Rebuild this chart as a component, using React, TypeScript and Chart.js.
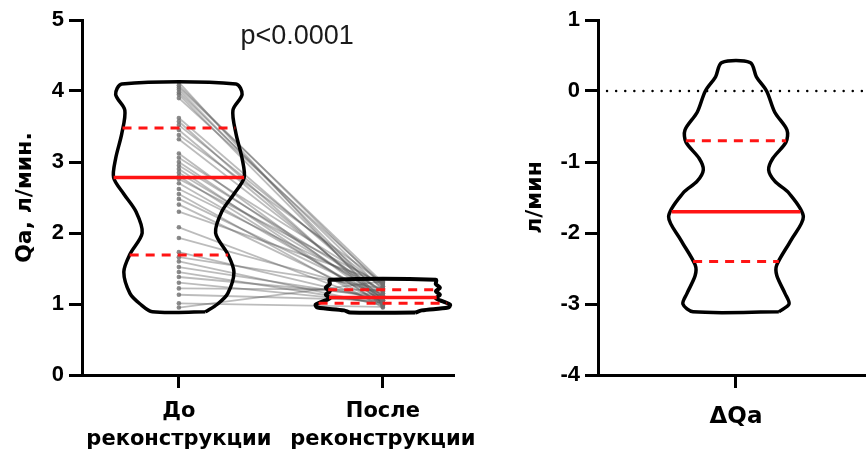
import React, { useEffect, useRef } from 'react';
import { Chart, registerables } from 'chart.js';

Chart.register(...registerables);

// ---------- text ----------
const CATEGORY_LABELS = [
  ['До', 'реконструкции'],
  ['После', 'реконструкции'],
];
const DELTA_LABELS = ['ΔQa'];
const Y_TITLE_LEFT = 'Qa, л/мин.';
const Y_TITLE_RIGHT = 'л/мин';
const P_LABEL = 'p<0.0001';
const P_LABEL_X = 0.58;
const P_LABEL_Y = 4.76;
const ZERO_LINE_VALUE = 0;

// ---------- paired values (л/мин) ----------
const QA_BEFORE = [
  4.12, 4.08, 4.05, 4.02, 3.98, 3.95, 3.9, 3.62, 3.57, 3.52,
  3.45, 3.38, 3.32, 3.12, 3.06, 3.0, 2.95, 2.9, 2.85, 2.8,
  2.76, 2.7, 2.62, 2.55, 2.48, 2.4, 2.3, 2.08, 1.93, 1.73,
  1.66, 1.6, 1.52, 1.45, 1.38, 1.3, 1.22, 1.13, 1.01, 0.95,
];
const QA_AFTER = [
  1.0, 1.25, 1.3, 1.1, 1.2, 1.05, 1.28, 1.15, 1.0, 1.22,
  1.05, 1.3, 1.1, 1.02, 1.25, 1.08, 1.18, 0.98, 1.12, 1.0,
  1.28, 1.05, 1.2, 0.95, 1.1, 1.02, 1.3, 1.0, 1.15, 1.05,
  1.22, 0.98, 1.08, 1.0, 1.12, 1.02, 1.2, 1.05, 0.96, 1.32,
];

// ---------- violin density profiles (value levels / half-widths) ----------
const BEFORE_PROFILE_Y = [0.89, 1.0, 1.15, 1.45, 1.7, 2.0, 2.3, 2.55, 2.78, 3.05, 3.4, 3.73, 3.95, 4.1];
const BEFORE_PROFILE_W = [0.13, 0.19, 0.24, 0.27, 0.24, 0.18, 0.21, 0.27, 0.32, 0.31, 0.28, 0.265, 0.31, 0.28];

const AFTER_PROFILE_Y = [0.88, 0.91, 0.95, 0.99, 1.03, 1.08, 1.13, 1.18, 1.23, 1.28, 1.34];
const AFTER_PROFILE_W = [0.16, 0.19, 0.32, 0.33, 0.3, 0.26, 0.28, 0.26, 0.28, 0.26, 0.26];

const DELTA_PROFILE_Y = [-3.11, -3.0, -2.85, -2.6, -2.45, -2.1, -1.77, -1.44, -1.27, -1.11, -0.95, -0.72, -0.55, -0.3, 0.0, 0.2, 0.4];
const DELTA_PROFILE_W = [0.21, 0.26, 0.24, 0.2, 0.2, 0.27, 0.33, 0.26, 0.19, 0.16, 0.18, 0.245, 0.25, 0.19, 0.15, 0.1, 0.07];

// quartiles: [Q1, median, Q3]
const BEFORE_QUARTILES = [1.69, 2.78, 3.48];
const AFTER_QUARTILES = [1.01, 1.09, 1.2];
const DELTA_QUARTILES = [-2.4, -1.7, -0.7];

// ---------- axes ----------
const LEFT_Y_MIN = 0;
const LEFT_Y_MAX = 5;
const RIGHT_Y_MIN = -4;
const RIGHT_Y_MAX = 1;
const LEFT_X_TICKS = [0, 1];
const RIGHT_X_TICKS = [0];

const RED = '#ff1414';
const TICK_FONT = { family: '"Liberation Sans", Arial, sans-serif', weight: 'bold' as const, size: 22 };
const LABEL_FONT = { family: '"DejaVu Sans", sans-serif', weight: 'bold' as const, size: 21, lineHeight: 1.33 };
const DELTA_FONT = { family: '"DejaVu Sans", sans-serif', weight: 'bold' as const, size: 23, lineHeight: 1.2 };
const TITLE_FONT = { family: '"DejaVu Sans", sans-serif', weight: 'bold' as const, size: 22 };

function outline(center: number, ys: number[], ws: number[]) {
  const right = ys.map((y, i) => ({ x: center + ws[i], y }));
  const left = ys.map((y, i) => ({ x: center - ws[i], y })).reverse();
  const pts = right.concat(left);
  pts.push({ ...pts[0] });
  return pts;
}

function halfWidthAt(ys: number[], ws: number[], v: number) {
  if (v <= ys[0]) return ws[0];
  for (let i = 1; i < ys.length; i++) {
    if (v <= ys[i]) {
      const t = (v - ys[i - 1]) / (ys[i] - ys[i - 1]);
      return ws[i - 1] + t * (ws[i] - ws[i - 1]);
    }
  }
  return ws[ws.length - 1];
}

function violinDatasets(center: number, ys: number[], ws: number[], quartiles: number[], outlineWidth = 3.5) {
  const sets: any[] = [];
  quartiles.forEach((q, i) => {
    const hw = halfWidthAt(ys, ws, q);
    const isMedian = i === 1;
    sets.push({
      data: [{ x: center - hw, y: q }, { x: center + hw, y: q }],
      showLine: true,
      borderColor: RED,
      borderWidth: isMedian ? 3.5 : 3,
      borderDash: isMedian ? [] : [9, 7],
      pointRadius: 0,
      order: 0,
    });
  });
  sets.push({
    data: outline(center, ys, ws),
    showLine: true,
    borderColor: '#000',
    borderWidth: outlineWidth,
    tension: 0.3,
    pointRadius: 0,
    fill: false,
    order: 1,
  });
  return sets;
}

function yAxis(min: number, max: number, width: number, title: string, titlePad: number) {
  return {
    type: 'linear' as const,
    min,
    max,
    afterFit: (s: any) => {
      s.width = width;
      s.paddingTop = 0;
      s.paddingBottom = 0;
    },
    ticks: { stepSize: 1, font: TICK_FONT, color: '#000', padding: 5 },
    grid: { drawOnChartArea: false, drawTicks: true, tickLength: 13, color: '#000', lineWidth: 3 },
    border: { display: true, color: '#000', width: 3 },
    title: { display: true, text: title, font: TITLE_FONT, color: '#000', padding: { top: titlePad, bottom: 0 } },
  };
}

function xAxis(min: number, max: number, tickValues: number[], labels: any[], labelPad: number, font: any) {
  return {
    type: 'linear' as const,
    min,
    max,
    afterBuildTicks: (s: any) => {
      s.ticks = tickValues.map((v) => ({ value: v }));
    },
    afterFit: (s: any) => {
      s.height = 79;
      s.paddingLeft = 0;
      s.paddingRight = 0;
    },
    ticks: {
      autoSkip: false,
      maxRotation: 0,
      minRotation: 0,
      font,
      color: '#000',
      padding: labelPad,
      callback: (_v: any, i: number) => labels[i],
    },
    grid: { drawOnChartArea: false, drawTicks: true, tickLength: 13, color: '#000', lineWidth: 3 },
    border: { display: true, color: '#000', width: 3 },
  };
}

export default function App() {
  const leftRef = useRef<HTMLCanvasElement>(null);
  const rightRef = useRef<HTMLCanvasElement>(null);

  useEffect(() => {
    const pairLines = QA_BEFORE.map((b, i) => ({
      data: [{ x: 0, y: b }, { x: 1, y: QA_AFTER[i] }],
      showLine: true,
      borderColor: 'rgba(80,80,80,0.38)',
      borderWidth: 1.8,
      pointRadius: 0,
      order: 3,
    }));
    const dots = {
      data: QA_BEFORE.map((y) => ({ x: 0, y })).concat(QA_AFTER.map((y) => ({ x: 1, y }))),
      showLine: false,
      pointRadius: 2.3,
      pointBackgroundColor: 'rgba(110,110,110,0.8)',
      pointBorderWidth: 0,
      order: 2,
    };

    const pLabelPlugin = {
      id: 'pLabel',
      afterDatasetsDraw(chart: any) {
        const { ctx, scales } = chart;
        const px = scales.x.getPixelForValue(P_LABEL_X);
        const py = scales.y.getPixelForValue(P_LABEL_Y);
        ctx.save();
        ctx.font = '27px "Liberation Sans", Arial, sans-serif';
        ctx.fillStyle = '#1a1a1a';
        ctx.textAlign = 'center';
        ctx.textBaseline = 'middle';
        ctx.fillText(P_LABEL, px, py);
        ctx.restore();
      },
    };

    const left = new Chart(leftRef.current!, {
      type: 'scatter',
      data: {
        datasets: [
          ...violinDatasets(0, BEFORE_PROFILE_Y, BEFORE_PROFILE_W, BEFORE_QUARTILES),
          ...violinDatasets(1, AFTER_PROFILE_Y, AFTER_PROFILE_W, AFTER_QUARTILES, 4),
          dots,
          ...pairLines,
        ],
      },
      options: {
        responsive: false,
        animation: false,
        layout: { padding: { left: 0, top: 20, right: 47, bottom: 0 } },
        plugins: { legend: { display: false }, tooltip: { enabled: false } },
        scales: {
          x: xAxis(-0.475, 1.344, LEFT_X_TICKS, CATEGORY_LABELS, 10, LABEL_FONT),
          y: yAxis(LEFT_Y_MIN, LEFT_Y_MAX, 82, Y_TITLE_LEFT, 12),
        },
      },
      plugins: [pLabelPlugin],
    });

    const zeroLinePlugin = {
      id: 'zeroLine',
      beforeDatasetsDraw(chart: any) {
        const { ctx, chartArea, scales } = chart;
        const py = scales.y.getPixelForValue(ZERO_LINE_VALUE);
        ctx.save();
        ctx.strokeStyle = '#000';
        ctx.lineWidth = 2.4;
        ctx.lineCap = 'round';
        ctx.setLineDash([0.1, 9]);
        ctx.beginPath();
        ctx.moveTo(chartArea.left + 9, py);
        ctx.lineTo(chartArea.right, py);
        ctx.stroke();
        ctx.restore();
      },
    };

    const right = new Chart(rightRef.current!, {
      type: 'scatter',
      data: {
        datasets: [...violinDatasets(0, DELTA_PROFILE_Y, DELTA_PROFILE_W, DELTA_QUARTILES)],
      },
      options: {
        responsive: false,
        animation: false,
        layout: { padding: { left: 0, top: 20, right: 0, bottom: 0 } },
        plugins: { legend: { display: false }, tooltip: { enabled: false } },
        scales: {
          x: xAxis(-0.676, 0.637, RIGHT_X_TICKS, DELTA_LABELS, 15, DELTA_FONT),
          y: yAxis(RIGHT_Y_MIN, RIGHT_Y_MAX, 98, Y_TITLE_RIGHT, 22),
        },
      },
      plugins: [zeroLinePlugin],
    });

    return () => {
      left.destroy();
      right.destroy();
    };
  }, []);

  return (
    <div style={{ position: 'absolute', left: 0, top: 0, width: 866, height: 454, background: '#fff', overflow: 'hidden' }}>
      <canvas ref={leftRef} width={500} height={454} style={{ position: 'absolute', left: 0, top: 0, width: 500, height: 454 }} />
      <canvas ref={rightRef} width={366} height={454} style={{ position: 'absolute', left: 500, top: 0, width: 366, height: 454 }} />
    </div>
  );
}
